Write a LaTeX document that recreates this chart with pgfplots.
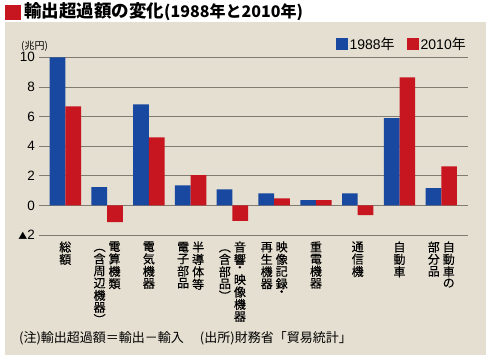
\documentclass[border=0pt]{standalone}
\usepackage{pgfplots}
\pgfplotsset{compat=1.18}
\usepackage{fontspec}
\setmainfont{Liberation Sans}
\newfontfamily\cjk{Noto Sans CJK JP}
\newfontfamily\cjkm{Noto Sans CJK JP}[FakeBold=0.35]
\definecolor{bg}{RGB}{229,223,209}
\definecolor{bblue}{RGB}{24,72,160}
\definecolor{bred}{RGB}{200,22,32}
\definecolor{gridc}{RGB}{128,124,114}
\newcommand\col[1]{{\renewcommand\arraystretch{0.6}\begin{tabular}[t]{@{}c@{}}#1\end{tabular}}}
\newcommand\cs{\hspace{3pt}}
\newcommand\dt{\smash{・}}
\pgfplotsset{sq legend/.style={legend image code/.code={\fill[##1] (0pt,-6pt) rectangle (12pt,6pt);}}}
\begin{document}
\begin{tikzpicture}
\fill[white] (0pt,0pt) rectangle (490pt,359pt);
\fill[bg] (4.5pt,4pt) rectangle (486pt,337pt);
\fill[bred] (5pt,339pt) rectangle (21pt,354pt);
\node[anchor=west,inner sep=0] at (24pt,347.5pt) {\cjk\bfseries\fontsize{17.5}{18}\selectfont 輸出超過額の変化{\fontsize{16}{16}\selectfont (1988年と2010年)}};
\node[anchor=west,inner sep=0] at (21pt,313pt) {\cjk\fontsize{10}{10}\selectfont (兆円)};
\node[anchor=west,inner sep=0] at (19pt,21pt) {\cjk\fontsize{13}{13}\selectfont (注)輸出超過額＝輸出－輸入\hspace{16pt}(出所)財務省「貿易統計」};
\begin{axis}[
  at={(39pt,124pt)}, anchor=south west,
  scale only axis, width=429pt, height=177.7pt,
  xmin=-0.63, xmax=9.64, ymin=-2, ymax=10,
  ybar=0pt, bar width=15.7pt,
  axis line style={draw=none},
  tick style={draw=none},
  ytick={-2,0,2,4,6,8,10},
  yticklabels={{{\cjk\fontsize{9}{9}\selectfont ▲}2},0,2,4,6,8,10},
  yticklabel style={font=\fontsize{13.5}{14}\selectfont, inner sep=0pt, anchor=east, xshift=-4pt},
  ymajorgrids, grid style={gridc, line width=0.8pt},
  xtick={0,...,9},
  xticklabels={
    {\col{総\\額}},
    {\col{︵\\含\\周\\辺\\機\\器\\︶}\cs\col{電\\算\\機\\類}},
    {\col{電\\気\\機\\器}},
    {\col{電\\子\\部\\品}\cs\col{半\\導\\体\\等}},
    {\col{︵\\含\\部\\品\\︶}\cs\col{音\\響\\\dt\\映\\像\\機\\器}},
    {\col{再\\生\\機\\器}\cs\col{映\\像\\記\\録\\\dt}},
    {\col{重\\電\\機\\器}},
    {\col{通\\信\\機}},
    {\col{自\\動\\車}},
    {\col{部\\分\\品}\cs\col{自\\動\\車\\の}}
  },
  xticklabel style={font=\cjkm\fontsize{12}{13}\selectfont, anchor=north, inner sep=0pt, yshift=-2pt},
  legend style={at={(1,1)}, anchor=south east, yshift=4pt, draw=none, fill=none,
    font=\fontsize{14}{14}\selectfont, inner sep=0pt,
    /tikz/every even column/.append style={column sep=10pt}},
  legend columns=-1,
]
\addplot[fill=bblue, draw=none, sq legend] coordinates {(0,10.0) (1,1.24) (2,6.82) (3,1.35) (4,1.08) (5,0.81) (6,0.36) (7,0.81) (8,5.9) (9,1.17)};
\addplot[fill=bred, draw=none, sq legend] coordinates {(0,6.69) (1,-1.13) (2,4.59) (3,2.05) (4,-1.04) (5,0.47) (6,0.36) (7,-0.65) (8,8.65) (9,2.64)};
\legend{1988{\cjk 年},2010{\cjk 年}}
\end{axis}
\end{tikzpicture}
\end{document}
